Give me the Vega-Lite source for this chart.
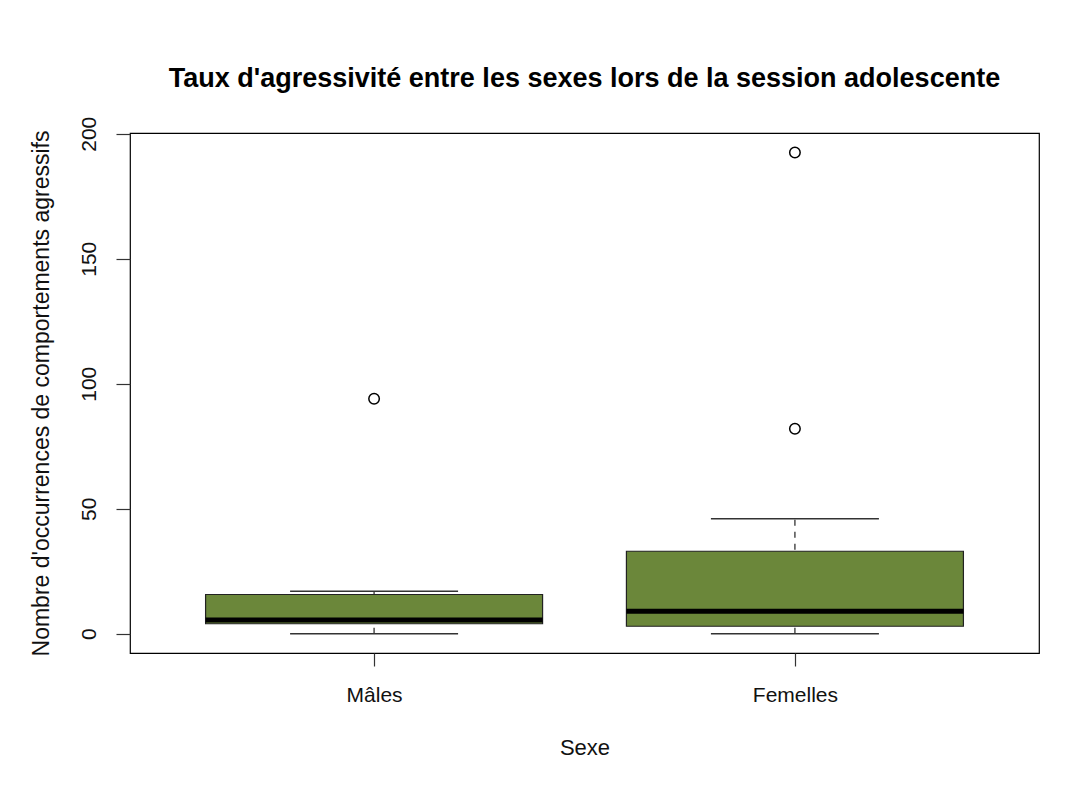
{
  "$schema": "https://vega.github.io/schema/vega-lite/v6.json",
  "width": 909,
  "height": 520,
  "autosize": "none",
  "padding": {"left": 130, "top": 133, "right": 51, "bottom": 137},
  "background": "white",
  "config": {
    "font": "Liberation Sans",
    "view": {"stroke": "black", "strokeWidth": 1.2},
    "axis": {"grid": false, "labelColor": "#111", "titleColor": "#111", "tickColor": "#333", "tickWidth": 1.2, "labelFontSize": 21, "titleFontSize": 22, "titleFontWeight": "normal", "labelFont": "Liberation Sans", "titleFont": "Liberation Sans"}
  },
  "title": {"text": "Taux d'agressivité entre les sexes lors de la session adolescente", "fontSize": 27, "fontWeight": "bold", "font": "Liberation Sans", "color": "black", "anchor": "middle", "offset": 23},
  "datasets": {
    "stats": [
      {"sexe": "Mâles", "lower": 0, "q1": 4, "median": 5.5, "q3": 15.7, "upper": 17},
      {"sexe": "Femelles", "lower": 0, "q1": 3, "median": 9, "q3": 33, "upper": 46}
    ],
    "outliers": [
      {"sexe": "Mâles", "value": 94},
      {"sexe": "Femelles", "value": 82},
      {"sexe": "Femelles", "value": 192.5}
    ]
  },
  "encoding": {
    "x": {"field": "sexe", "type": "nominal", "sort": ["Mâles", "Femelles"], "scale": {"type": "point", "padding": 0.58},
      "axis": {"title": "Sexe", "labelAngle": 0, "domain": false, "tickSize": 13, "labelPadding": 18, "titlePadding": 32}}
  },
  "layer": [
    {
      "data": {"name": "stats"},
      "mark": {"type": "rule", "color": "#333", "opacity": 1, "strokeWidth": 1.3, "strokeDash": [6, 6]},
      "encoding": {
        "y": {"field": "lower", "type": "quantitative", "scale": {"domain": [-7.7, 200.3], "nice": false, "zero": false},
          "axis": {"title": "Nombre d'occurrences de comportements agressifs", "titleFontSize": 23, "values": [0, 50, 100, 150, 200], "domain": false, "tickSize": 14, "labelAngle": -90, "labelAlign": "center", "labelBaseline": "bottom", "labelPadding": 17, "titlePadding": 25}},
        "y2": {"field": "upper"}
      }
    },
    {
      "data": {"name": "stats"},
      "mark": {"type": "tick", "color": "#333", "opacity": 1, "size": 168, "thickness": 1.5},
      "encoding": {"y": {"field": "lower", "type": "quantitative"}}
    },
    {
      "data": {"name": "stats"},
      "mark": {"type": "tick", "color": "#333", "opacity": 1, "size": 168, "thickness": 1.5},
      "encoding": {"y": {"field": "upper", "type": "quantitative"}}
    },
    {
      "data": {"name": "stats"},
      "mark": {"type": "bar", "fill": "#6b873a", "opacity": 1, "stroke": "#222", "strokeWidth": 1.2, "size": 337},
      "encoding": {"y": {"field": "q1", "type": "quantitative"}, "y2": {"field": "q3"}}
    },
    {
      "data": {"name": "stats"},
      "mark": {"type": "tick", "color": "black", "opacity": 1, "size": 337, "thickness": 5},
      "encoding": {"y": {"field": "median", "type": "quantitative"}}
    },
    {
      "data": {"name": "outliers"},
      "mark": {"type": "point", "shape": "circle", "filled": false, "opacity": 1, "stroke": "black", "strokeWidth": 1.5, "size": 110},
      "encoding": {"y": {"field": "value", "type": "quantitative"}}
    }
  ]
}
